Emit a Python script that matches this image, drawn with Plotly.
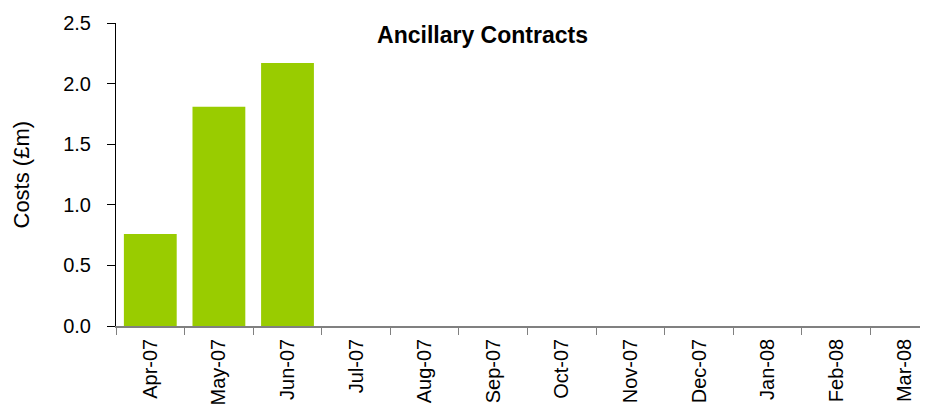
import plotly.graph_objects as go

months = ["Apr-07", "May-07", "Jun-07", "Jul-07", "Aug-07", "Sep-07",
          "Oct-07", "Nov-07", "Dec-07", "Jan-08", "Feb-08", "Mar-08"]
costs = [0.76, 1.81, 2.17, None, None, None, None, None, None, None, None, None]
y_ticks = [0.0, 0.5, 1.0, 1.5, 2.0, 2.5]

# page body has an 8px margin, so the figure is sized/offset to compensate
OFF = 8
W, H = 928 - OFF, 408 - OFF
ML, MR, MT, MB = 116 - OFF, 0, 23 - OFF, 82
pw = W - ML - MR

fig = go.Figure()
fig.add_trace(go.Bar(x=months, y=costs, marker_color="#99CC00",
                     marker_line_width=0, width=0.77))

fig.update_layout(
    width=W, height=H,
    margin=dict(l=ML, r=MR, t=MT, b=MB, pad=0),
    paper_bgcolor="white", plot_bgcolor="white",
    showlegend=False,
    font=dict(family="Liberation Sans, Arial, sans-serif", color="black"),
    title=dict(text="<b>Ancillary Contracts</b>", x=(482.5 - OFF) / W, xanchor="center",
               xref="container", y=1 - (35 - OFF) / H, yref="container", yanchor="middle",
               font=dict(size=23, color="black")),
    xaxis=dict(type="category", range=[-0.5, 11.337], showgrid=False,
               showline=True, linecolor="#808080", linewidth=1.5,
               ticks="outside", tickson="boundaries", ticklen=7,
               tickcolor="#808080", tickwidth=1, tickangle=-90,
               tickfont=dict(size=20, color="black"), ticklabelstandoff=3,
               zeroline=False, automargin=False),
    yaxis=dict(range=[0, 2.5], tickvals=y_ticks, tickformat=".1f",
               showgrid=False, showline=True, linecolor="black", linewidth=1,
               ticks="outside", ticklen=8, tickcolor="black",
               tickfont=dict(size=20, color="black"), ticklabelstandoff=12,
               zeroline=False, automargin=False),
    annotations=[dict(text="Costs (£m)", textangle=-90, showarrow=False,
                      xref="paper", yref="paper", x=(21 - 116) / pw, y=0.5,
                      xanchor="center", yanchor="middle",
                      font=dict(size=22, color="black"))],
)

fig.write_html("out.html")
